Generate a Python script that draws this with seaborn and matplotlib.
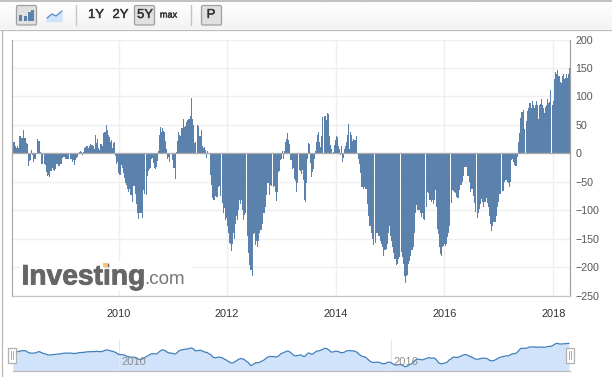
import numpy as np
import pandas as pd
import matplotlib
matplotlib.use("Agg")
import matplotlib.pyplot as plt
import matplotlib.patheffects as pe
from matplotlib.patches import Rectangle, FancyBboxPatch
import seaborn as sns

# weekly values
values_a = [43,20,19,12,9,13,10,30,30,27,27,41,27,27,18,17,-22,-13,-12,6,-3,-16,-10,-10,-1,25,22,22,3,-18,
            -18,-1,-19,-21,-33,-40,-38,-41,-32,-32,-26,-30,-31,-28,-19,-19,-23,-22,-18,-18,-8,-6,-6,-10,-10,-10,-10,-1,-10,-10,
            -15,-12,-20,-12,-9,-6,1,2,4,2,-3,2,9,11,13,13,10,13,17,15,14,13,8,32,18,25,10,5,17,17,
            12,35,37,38,50,41,32,29,20,23,9,18,20]
values_b = [-4,-18,-15,-35,-38,-38,-20,-26,-35,-44,-52,-56,-62,-68,-62,-74,-74,-85,-58,-58,-72,-90,-105,-115,-105,-105,-105,-113,-65,-72,
            0,-73,-40,-32,-28,-26,-10,-8,-17,-25,-27,-24,-13,4,33,47,37,45,40,38,22,8,-10,-7,-16,-2,-2,-11,-26,-26,
            -46,2,22,38,32,30,45,45,60,47,48,55,58,60,60,66,98,60,50,18,20,1,50,48,30,30,41,12,10,11,
            5,-9,4,1,0]
values_c = [-38,-55,-78,-83,-83,-75,-76,-76,-60,-57,-75,0,-87,-105,-97,-117,-113,-128,-140,-157,-160,-171,-160,-140,-150,-125,-110,-118,-100,-82,
            -90,-82,-100,-118,-108,-105,0,-145,-175,-196,-205,-205,-215,-142,-140,-162,-155,-165,-155,-140,-135,-135,-125,-105,-105,-95,-74,-52,-52,-73,
            -56,-57,0,-60,-58,-68,-84,-68,-33,-32,-12,-10,4,-10,4,20,25,36,24,17,-12,-27,-26,-46,-48,-68,-52,0,-29,-31,
            -36,-30,-47,-82,-85,-52,-10,18,16]
values_d = [-17,-42,-33,-27,-10,4,20,33,37,20,11,30,63,0,65,66,58,71,69,30,15,8,-2,3,14,23,30,29,12,8,
            -3,12,-15,-8,8,12,19,33,52,8,38,32,22,25,24,24,30,-2,-10,-19,-35,-59,-60,-62,-60,-62,-63,-90,-110,-128,
            -127,-140,-150,-162,0,-158,-140,-140,-145,-145,-155,-160,-165,-180,-170,-170,-168,-160,-140,-128,-145,-155,-165,-175,-185,-185,-197,-195,-185,-182,
            0,-173,-183,-195,-215,-228,-215,-214,-195,-190,-180,-170,-170,-165,-140,-105,-91,-100,-100,-100,-105,-112,-105,-115,-118,0,-95,-68,-70,-82]
values_e = [-82,-86,-83,-90,-82,-65,-95,-133,-142,-165,-177,-180,-165,-163,-160,-163,-160,-148,-140,-128,0,-88,-65,-66,-68,-70,-77,-78,-78,-65,
            -55,-55,-50,-40,-24,-24,-24,-40,-40,-50,-68,-63,-62,-75,-88,-103,0,-113,-105,-98,-90,-80,-85,-95,-85,-85,-78,-88,-95,-110,
            -125,-137,-128,-120,-120,-120,-110,-95,-85,-72,-72,0,-67,-67,-50,-47,-47,-50,-52,-60,-50,-12,-10,-15,-20,-22,-22,-6]
values_f = [20,35,62,72,73,76,42,0,57,75,79,88,88,80,92,85,80,85,92,85,61,85,87,95,85,80,70,82,84,95,
            88,90,112,0,85,92,130,143,140,146,135,135,125,123,135,140,130,133,140,132,140,150]
values = values_a + values_b + values_c + values_d + values_e + values_f

y_ticks = [200, 150, 100, 50, 0, -50, -100, -150, -200, -250]
year_labels = ["2010", "2012", "2014", "2016", "2018"]
year_weeks = [106, 214, 323, 431, 540]

W, H = 612, 377
BAR = "#5b82ad"
GRID = "#efefef"

sns.set_theme(style="white")
plt.rcParams["font.family"] = ["Liberation Sans", "DejaVu Sans"]

df = pd.DataFrame({"week": np.arange(len(values)), "value": values})

# the navigator line is smoother and has no gaps
nav_df = df[df["value"] != 0].copy()
nav_df["value"] = nav_df["value"].rolling(5, center=True, min_periods=1).mean()

fig = plt.figure(figsize=(W / 100, H / 100), dpi=100, facecolor="white")


def box(x0, y0, x1, y1):
    return [x0 / W, 1 - y1 / H, (x1 - x0) / W, (y1 - y0) / H]


# main chart
ax = fig.add_axes(box(12, 39.5, 570, 295.5))
sns.barplot(data=df, x="week", y="value", native_scale=True, width=1, color=BAR,
            saturation=1, linewidth=0, antialiased=False, ax=ax, zorder=2)
ax.set_xlim(-0.5, len(values) - 0.5)
ax.set_ylim(-250, 200)
ax.set_xlabel("")
ax.set_ylabel("")
ax.set_xticks(year_weeks, year_labels)
ax.set_yticks(y_ticks)
ax.yaxis.tick_right()
ax.grid(True, color=GRID, lw=1.0, zorder=0)
ax.set_axisbelow(True)
ax.axhline(0, color="#ababab", lw=0.9, zorder=3)
ax.tick_params(axis="x", length=0, pad=10, labelsize=7.9, labelcolor="#333333")
ax.tick_params(axis="y", length=0, pad=4, labelsize=7.7, labelcolor="#555555")
for side, col in [("left", "#ababab"), ("right", "#a0a0a0"), ("bottom", "#c0c4cc")]:
    ax.spines[side].set_color(col)
    ax.spines[side].set_linewidth(0.9)
ax.spines["top"].set_visible(False)

# navigator below, same series on a squeezed scale
nav = fig.add_axes(box(12.5, 340, 569.5, 370.5))
sns.lineplot(data=nav_df, x="week", y="value", color="#3f7fba", lw=0.9, ax=nav, zorder=3)
nav.fill_between(nav_df["week"], nav_df["value"], -273, color="#d0e3fa", lw=0, zorder=1)
nav.set_xlim(-0.5, len(values) - 0.5)
nav.set_ylim(-273, 192)
nav.set_xlabel("")
nav.set_ylabel("")
nav.set_xticks([year_weeks[0], 378], ["", ""])
nav.set_yticks([])
nav.grid(True, axis="x", color="#e6e6e6", lw=0.8, zorder=2)
nav.set_axisbelow(False)
nav.tick_params(length=0)
for side in ["left", "right", "top"]:
    nav.spines[side].set_visible(False)
nav.spines["bottom"].set_color("#bdbdbd")
nav.spines["bottom"].set_linewidth(0.9)

# toolbar, logo and navigator handles in pixel coordinates
top = fig.add_axes([0, 0, 1, 1], zorder=5)
top.set_xlim(0, W)
top.set_ylim(H, 0)
top.axis("off")
top.patch.set_alpha(0)

grad = np.linspace(1.0, 0.95, 30).reshape(-1, 1)
top.imshow(grad, extent=(0, W, 29.5, 0.5), cmap="gray", vmin=0, vmax=1, aspect="auto", zorder=1)
top.set_xlim(0, W)
top.set_ylim(H, 0)
top.plot([0, W], [0.5, 0.5], color="#b0b0b0", lw=1.1, zorder=2)
top.plot([0, W], [29.5, 29.5], color="#bcbcbc", lw=0.9, zorder=2)
top.plot([1.5, 1.5], [30, H], color="#b8b8b8", lw=0.9, zorder=2)


def button(x0, x1):
    top.add_patch(FancyBboxPatch((x0, 5.5), x1 - x0, 19.5, boxstyle="round,pad=0,rounding_size=1.5",
                                 fc="#e0e0e0", ec="#a0a0a0", lw=0.9, zorder=2))


button(16.5, 36.5)
button(134.5, 154.5)
button(201.5, 221.5)
for x0, h in [(19, 6), (23.5, 5), (27.5, 9), (31, 11)]:
    top.add_patch(Rectangle((x0, 21 - h), 3, h, fc=BAR, ec="none", zorder=3))
top.fill([47, 52, 56, 62, 62, 47], [18, 14, 16, 11, 21.5, 21.5], color="#d0e3fa", zorder=3)
top.plot([47, 52, 56, 62], [18, 14, 16, 11], color="#5b8fc4", lw=0.9, zorder=4)
top.plot([75.5, 75.5], [5, 25], color="#c4c4c4", lw=1, zorder=3)
top.plot([190.5, 190.5], [5, 25], color="#c4c4c4", lw=1, zorder=3)
thick = [pe.withStroke(linewidth=0.3, foreground="#333333")]
for x, label, size in [(96, "1Y", 9.4), (120.5, "2Y", 9.4), (145, "5Y", 9.4), (168.5, "max", 6.6), (211, "P", 9.4)]:
    top.text(x, 15, label, ha="center", va="center", fontsize=size, color="#333333", zorder=4, path_effects=thick)

# logo
top.add_patch(Rectangle((20, 262), 173, 29, fc="white", ec="none", zorder=2))
top.text(21.5, 284.5, "Investing", fontsize=20.3, weight="bold", color="#666666", va="baseline", ha="left", zorder=3,
         path_effects=[pe.withStroke(linewidth=0.6, foreground="#666666")])
top.text(144, 284.5, ".com", fontsize=13.6, color="#777777", va="baseline", ha="left", zorder=3)
top.add_patch(Rectangle((102.5, 262.5), 5, 4, fc="#f7c36b", ec="none", zorder=4))

# navigator labels and handles
top.text(134, 362, "2010", fontsize=8, color="#8c8c8c", ha="center", va="center", zorder=4)
top.text(405.5, 362, "2016", fontsize=8, color="#8c8c8c", ha="center", va="center", zorder=4)
for x0 in (7.5, 565.5):
    top.add_patch(Rectangle((x0, 347.5), 8, 15, fc="white", ec="#b0b0b0", lw=0.9, zorder=4))
    top.plot([x0 + 3, x0 + 3], [351, 359], color="#a8a8a8", lw=0.7, zorder=5)
    top.plot([x0 + 5, x0 + 5], [351, 359], color="#a8a8a8", lw=0.7, zorder=5)

fig.savefig("out.png", dpi=100)
